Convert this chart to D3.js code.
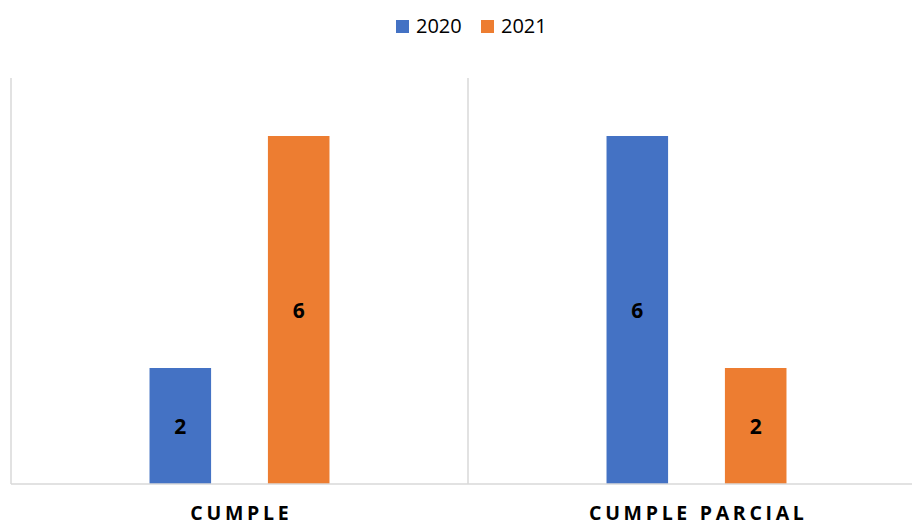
<!DOCTYPE html>
<html>
<head>
<meta charset="UTF-8">
<script src="https://cdnjs.cloudflare.com/ajax/libs/d3/7.8.5/d3.min.js"></script>
<style>
  body { margin: 0; background: #fff; }
  text { font-family: "Open Sans", "Liberation Sans", sans-serif; }
</style>
</head>
<body>
<div id="chart"></div>
<script>
// chart data
const categories = ["CUMPLE", "CUMPLE PARCIAL"];
const seriesNames = ["2020", "2021"];
const values2020 = [2, 6];
const values2021 = [6, 2];
const colors = ["#4472C4", "#ED7D31"];

const width = 912, height = 525;
const margin = {top: 78, right: -13, bottom: 41, left: 11};
const innerW = width - margin.left - margin.right;
const innerH = height - margin.top - margin.bottom;

const svg = d3.select("#chart").append("svg")
  .attr("width", width).attr("height", height);

const g = svg.append("g").attr("transform", `translate(${margin.left},${margin.top})`);

const x = d3.scaleBand().domain(categories).range([0, innerW]);
const x1 = d3.scaleBand().domain(seriesNames).range([0, x.bandwidth()])
  .paddingInner(0.48).paddingOuter(1.17);
const y = d3.scaleLinear().domain([0, 7]).range([innerH, 0]);

// category separators
g.selectAll("line.sep")
  .data([0, x(categories[1]), innerW])
  .enter().append("line")
  .attr("class", "sep")
  .attr("x1", d => d).attr("x2", d => d)
  .attr("y1", 0).attr("y2", innerH)
  .attr("stroke", "#d9d9d9").attr("stroke-width", 1.5);

const rows = categories.map((c, i) => ({cat: c, vals: [values2020[i], values2021[i]]}));

const groups = g.selectAll("g.cat").data(rows).enter().append("g")
  .attr("transform", d => `translate(${x(d.cat)},0)`);

groups.selectAll("rect")
  .data(d => d.vals.map((v, j) => ({s: seriesNames[j], v, c: colors[j]})))
  .enter().append("rect")
  .attr("x", d => x1(d.s))
  .attr("width", x1.bandwidth())
  .attr("y", d => y(d.v))
  .attr("height", d => innerH - y(d.v))
  .attr("fill", d => d.c);

groups.selectAll("text.val")
  .data(d => d.vals.map((v, j) => ({s: seriesNames[j], v})))
  .enter().append("text")
  .attr("class", "val")
  .attr("x", d => x1(d.s) + x1.bandwidth() / 2)
  .attr("y", d => (y(d.v) + innerH) / 2)
  .attr("dy", "0.36em")
  .attr("text-anchor", "middle")
  .style("font-size", "21px").style("font-weight", "bold")
  .text(d => d.v);

// baseline
g.append("line")
  .attr("x1", 0).attr("x2", innerW)
  .attr("y1", innerH).attr("y2", innerH)
  .attr("stroke", "#d9d9d9").attr("stroke-width", 1.5);

// category labels
g.selectAll("text.cat").data(categories).enter().append("text")
  .attr("class", "cat")
  .attr("x", d => x(d) + x.bandwidth() / 2 + 1.8)
  .attr("y", innerH + 35.5)
  .attr("text-anchor", "middle")
  .style("font-size", "19.5px").style("font-weight", "bold")
  .style("letter-spacing", "3.7px")
  .text(d => d);

// legend
const legend = svg.append("g").attr("transform", "translate(396,20)");
const li = legend.selectAll("g").data(seriesNames).enter().append("g")
  .attr("transform", (d, i) => `translate(${i * 85},0)`);
li.append("rect").attr("width", 13).attr("height", 13).attr("fill", (d, i) => colors[i]);
li.append("text").attr("x", 20).attr("y", 13)
  .style("font-size", "20px").text(d => d);
</script>
</body>
</html>
